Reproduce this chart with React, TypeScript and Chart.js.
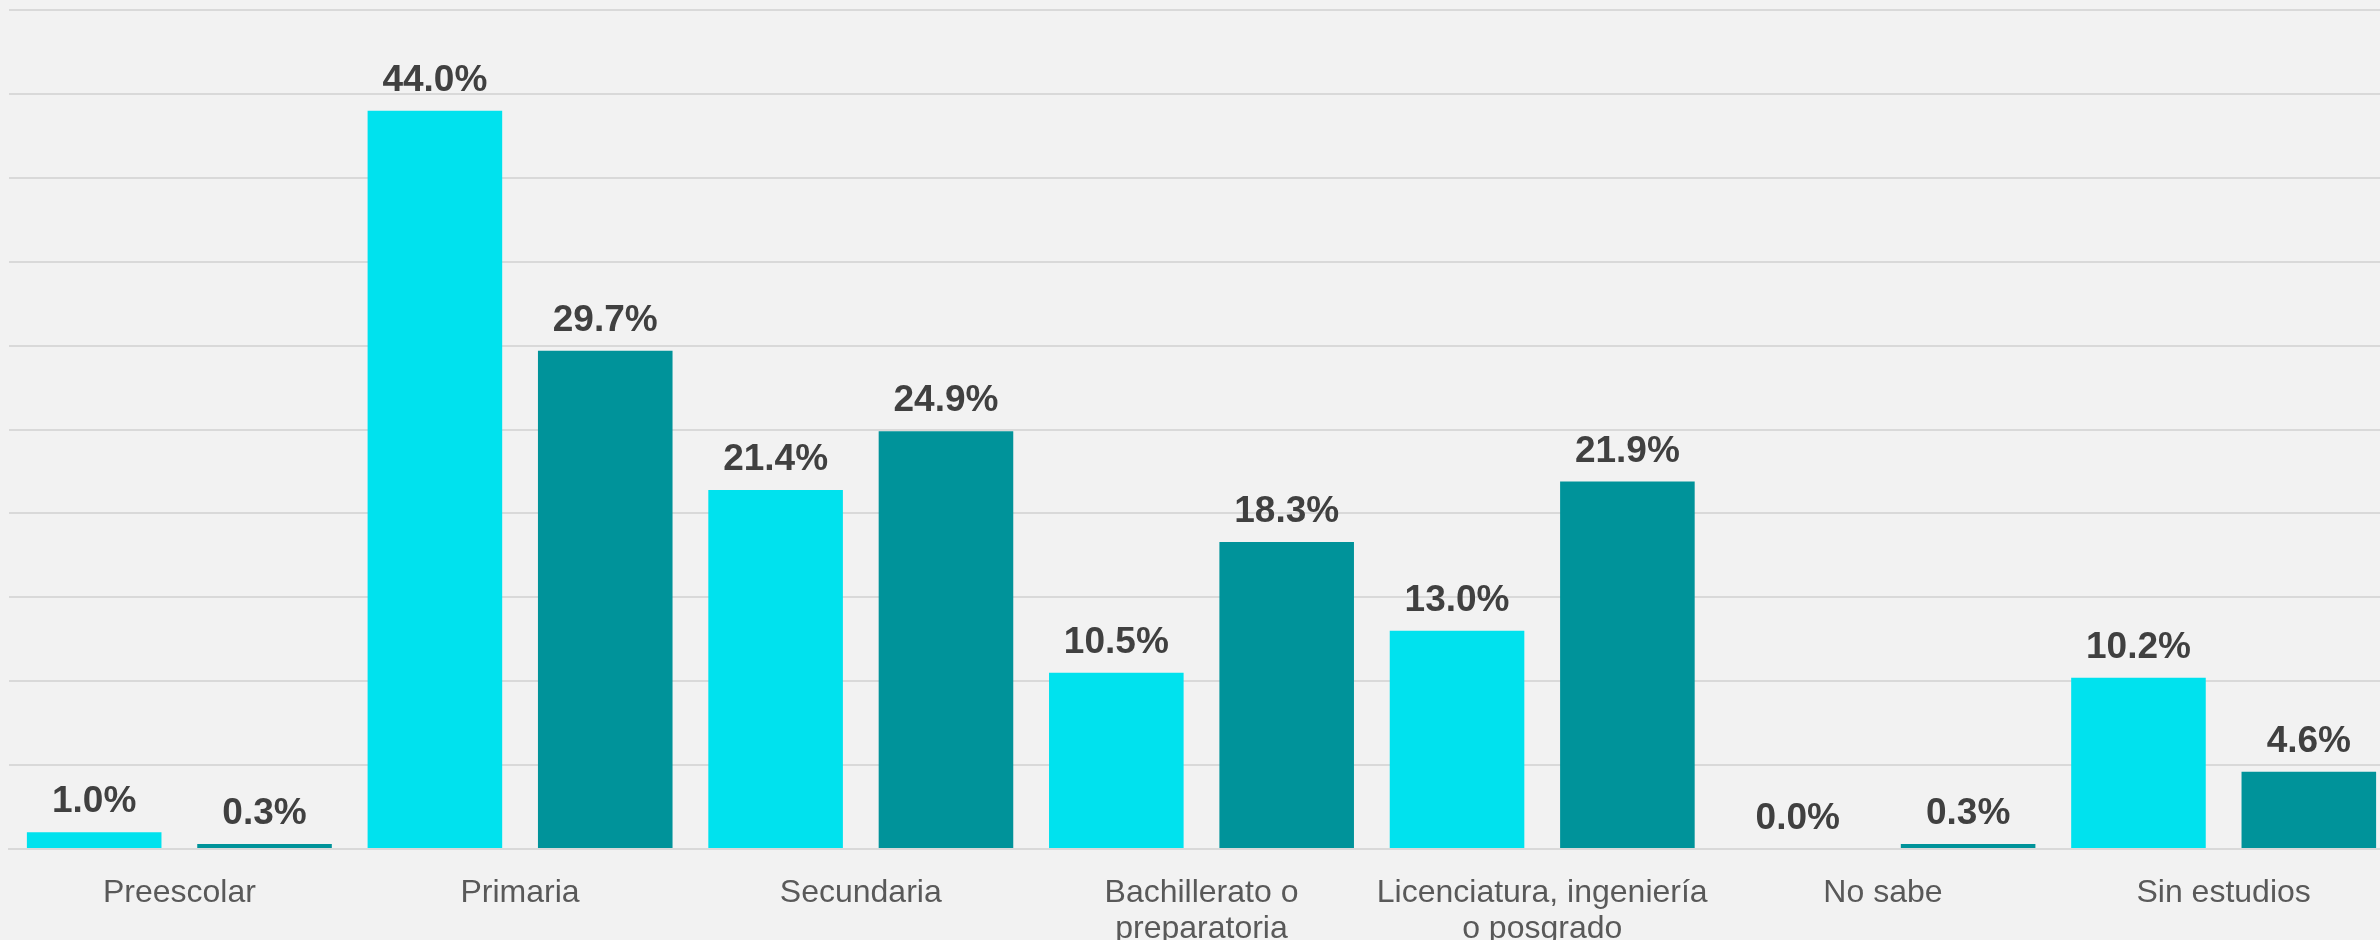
import React, { useEffect, useRef } from "react";
import { Chart, registerables } from "chart.js";

Chart.register(...registerables);

const categories: (string | string[])[] = [
  "Preescolar",
  "Primaria",
  "Secundaria",
  ["Bachillerato o", "preparatoria"],
  ["Licenciatura, ingeniería", "o posgrado"],
  "No sabe",
  "Sin estudios",
];
const seriesA = [1.0, 44.0, 21.4, 10.5, 13.0, 0.0, 10.2];
const seriesB = [0.3, 29.7, 24.9, 18.3, 21.9, 0.3, 4.6];
const yTicksMax = 50;
const yTicksStep = 5;

const FONT = "'Liberation Sans', Arial, sans-serif";

const valueLabels = {
  id: "valueLabels",
  afterDatasetsDraw(chart: any) {
    const ctx = chart.ctx;
    ctx.save();
    ctx.font = `bold 37px ${FONT}`;
    ctx.fillStyle = "#404040";
    ctx.textAlign = "center";
    ctx.textBaseline = "alphabetic";
    chart.data.datasets.forEach((ds: any, i: number) => {
      const meta = chart.getDatasetMeta(i);
      meta.data.forEach((bar: any, j: number) => {
        const v = ds.data[j] as number;
        ctx.fillText(v.toFixed(1) + "%", bar.x, bar.y - 20);
      });
    });
    ctx.restore();
  },
};

export default function App() {
  const ref = useRef<HTMLCanvasElement | null>(null);
  useEffect(() => {
    if (!ref.current) return;
    const chart = new Chart(ref.current, {
      type: "bar",
      data: {
        labels: categories as any,
        datasets: [
          { data: seriesA, backgroundColor: "#00E2EE", barPercentage: 0.79, categoryPercentage: 1 },
          { data: seriesB, backgroundColor: "#00939A", barPercentage: 0.79, categoryPercentage: 1 },
        ],
      },
      options: {
        animation: false,
        responsive: false,
        maintainAspectRatio: false,
        layout: { padding: { left: 9, right: 0, top: 10, bottom: 0 } },
        plugins: {
          legend: { display: false },
          tooltip: { enabled: false },
        },
        scales: {
          x: {
            grid: { display: false, drawTicks: false },
            border: { display: true, color: "#D9D9D9", width: 2 },
            ticks: {
              color: "#595959",
              font: { family: FONT, size: 32, lineHeight: 1.125 },
              padding: 26,
              maxRotation: 0,
              autoSkip: false,
            },
            afterFit(scale: any) {
              scale.height = 91;
            },
          },
          y: {
            min: 0,
            max: yTicksMax,
            ticks: { display: false, stepSize: yTicksStep },
            grid: { color: "#D9D9D9", lineWidth: 2, drawTicks: false },
            border: { display: false },
            afterFit(scale: any) {
              scale.width = 0;
            },
          },
        },
      },
      plugins: [valueLabels],
    });
    return () => chart.destroy();
  }, []);
  return (
    <div
      style={{
        position: "fixed",
        left: 0,
        top: 0,
        width: 2380,
        height: 940,
        overflow: "hidden",
        background: "#F2F2F2",
      }}
    >
      <canvas ref={ref} width={2394} height={940} style={{ display: "block" }} />
    </div>
  );
}
